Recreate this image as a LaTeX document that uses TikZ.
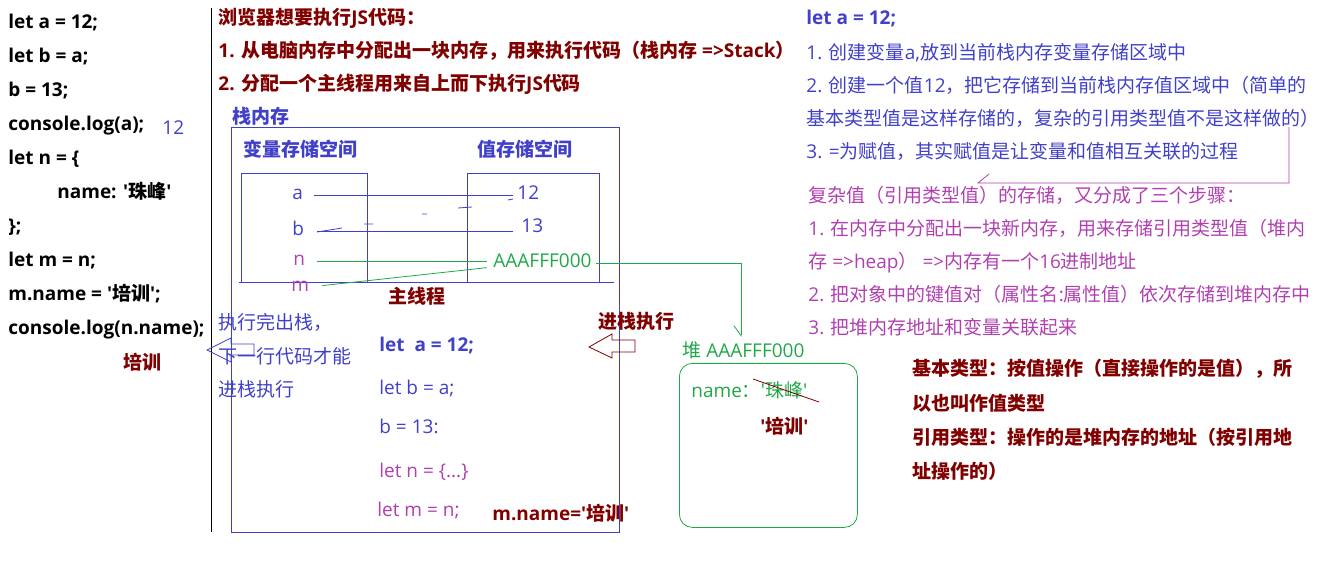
\documentclass[tikz,border=0pt]{standalone}
\usepackage{fontspec}
\setmainfont{Open Sans}
\newfontfamily\cjkfam{Noto Sans CJK SC}
\usetikzlibrary{arrows.meta}

\definecolor{jsred}{RGB}{128,0,0}
\definecolor{jsblue}{RGB}{64,64,200}
\definecolor{jspurple}{RGB}{176,64,176}
\definecolor{jsgreen}{RGB}{32,168,72}

\newcommand{\fsz}{\fontsize{19}{23}\selectfont}
\newcommand{\sqt}{\textquotesingle}

% Chinese glyphs from Noto Sans CJK, the rest from Open Sans
\XeTeXinterchartokenstate=1
\newcount\cjkcnt
\newcommand{\cjkrange}[2]{%
  \cjkcnt=#1
  \loop\ifnum\cjkcnt<#2
    \XeTeXcharclass\cjkcnt=1
    \advance\cjkcnt by 1
  \repeat}
\cjkrange{"3000}{"3040}
\cjkrange{"4E00}{"A000}
\cjkrange{"FF01}{"FF5F}
\XeTeXinterchartoks 0 1 = {\cjkfam}
\XeTeXinterchartoks 4095 1 = {\cjkfam}
\XeTeXinterchartoks 1 0 = {\rmfamily}
\XeTeXinterchartoks 1 4095 = {\rmfamily}

\begin{document}
\begin{tikzpicture}
    [
        x=1pt, y=-1pt, line width=0.8pt,
        txt/.style={anchor=base west, inner sep=0pt, font=\fsz},
        code/.style={txt, font=\fsz\bfseries},
        lbl/.style={txt, text height=10pt, text depth=0pt},
        next/.style={at={(#1.base west)}, yshift=-34pt},
        nextline/.style={at={(#1.base west)}, yshift=-33pt},
        frame/.style={draw=jsblue, inner sep=0pt, anchor=north west}
    ]
    \tikzstyle{link} = [draw=jsblue]
    \tikzstyle{glink} = [draw=jsgreen]

    \useasboundingbox (0,0) rectangle (1326,577);

    % source code
    \node[code] (js1) at (8,29) {let a = 12;};
    \node[code, next=js1] (js2) {let b = a;};
    \node[code, next=js2] (js3) {b = 13;};
    \node[code, next=js3] (js4) {console.log(a);};
    \node[code, next=js4] (js5) {let n = \{};
    \node[code, next=js5, xshift=49pt] (js6) {name: \sqt{}珠峰\sqt};
    \node[code, next=js6, xshift=-49pt] (js7) {\};};
    \node[code, next=js7] (js8) {let m = n;};
    \node[code, next=js8] (js9) {m.name = \sqt{}培训\sqt;};
    \node[code, next=js9] (js10) {console.log(n.name);};
    \node[txt, text=jsblue] (out12) at (162,135) {12};
    \node[code, text=jsred] (outname) at (123,370) {培训};

    \draw (211,8) -- (211,532);

    \node[code, text=jsred] (head1) at (218,25) {浏览器想要执行JS代码：};
    \node[code, text=jsred, nextline=head1] (head2) {1. 从电脑内存中分配出一块内存，用来执行代码（栈内存 =>Stack）};
    \node[code, text=jsred, nextline=head2] (head3) {2. 分配一个主线程用来自上而下执行JS代码};

    % stack
    \node[code, text=jsblue] (stacklbl) at (232,124) {栈内存};
    \node[frame, minimum width=388pt, minimum height=405pt] (stack) at (231,127) {};
    \node[code, text=jsblue] (varlbl) at (243,157) {变量存储空间};
    \node[code, text=jsblue] (vallbl) at (477,157) {值存储空间};
    \node[frame, minimum width=126pt, minimum height=109pt] (varbox) at (241,173) {};
    \node[frame, minimum width=132pt, minimum height=109pt] (valbox) at (467,173) {};
    \draw[link] (239,282) -- (614,282);

    \node[lbl, text=jsblue] (va) at (292,200) {a};
    \node[lbl, text=jsblue] (vb) at (292,236) {b};
    \node[lbl, text=jspurple] (vn) at (293,266) {n};
    \node[lbl, text=jspurple] (vm) at (291,292) {m};
    \node[lbl, text=jsblue] (v12) at (517,200) {12};
    \node[lbl, text=jsblue] (v13) at (521,233) {13};
    \node[lbl, text=jsgreen] (addr) at (493,268) {AAAFFF000};

    \draw[link, shorten <=11pt, shorten >=4pt] (va.east) -- (va.east -| v12.west);
    \draw[link, shorten <=13pt, shorten >=8pt] (vb.east) -- (vb.east -| v13.west);
    \draw[glink, shorten <=12pt, shorten >=6pt] (vn.east) -- (vn.east -| addr.west);
    \draw[glink, shorten <=13pt, shorten >=6pt] (vm.east) -- ([yshift=-4pt]addr.west);
    \draw[link] (317,232) -- (342,228) (364,224) -- (373,224) (422,214) -- (427,214)
        (458,208) -- (472,207) (508,200) -- (513,199);

    \node[code, text=jsred] (mainlbl) at (388,304) {主线程};

    \node[txt, text=jsblue] (pop1) at (218,330) {执行完出栈，};
    \node[txt, text=jsblue, nextline=pop1] (pop2) {下一行代码才能};
    \node[txt, text=jsblue, nextline=pop2] (pop3) {进栈执行};
    \draw[jsblue] (207,350) -- (231,338) -- (231,344) -- (254,344) -- (254,355)
        -- (231,355) -- (231,362) -- cycle;

    \node[code, text=jsred] (pushlbl) at (598,329) {进栈执行};
    \draw[jsred] (589,347) -- (612,334) -- (612,340) -- (635,340) -- (635,352)
        -- (612,352) -- (612,358) -- cycle;

    \node[code, text=jsblue] (run1) at (379,352) {let~~a = 12;};
    \node[txt, text=jsblue] (run2) at (379,395) {let b = a;};
    \node[txt, text=jsblue] (run3) at (379,433) {b = 13:};
    \node[txt, text=jspurple] (run4) at (379,477) {let n = \{...\}};
    \node[txt, text=jspurple] (run5) at (377,516) {let m = n;};
    \node[code, text=jsred] (run6) at (492,520) {m.name=\sqt{}培训\sqt};

    % heap
    \coordinate (hin) at (741,337);
    \draw[glink, shorten <=4pt, -{Straight Barb[harpoon, swap, length=10pt, width=14pt]}] (addr.east) -| (hin);
    \node[txt, text=jsgreen] (heaplbl) at (682,358) {堆 AAAFFF000};
    \node[frame, draw=jsgreen, rounded corners=13pt, minimum width=178pt, minimum height=164pt] (heap) at (679,363) {};
    \node[txt, text=jsgreen] (prop) at (691,398) {name：\sqt{}珠峰\sqt};
    \draw[jsred] (753,379) -- (819,402);
    \node[code, text=jsred] (newval) at (760,433) {\sqt{}培训\sqt};

    % notes
    \node[code, text=jsblue] (step0) at (806,25) {let a = 12;};
    \node[txt, text=jsblue] (step1) at (806,60) {1. 创建变量a,放到当前栈内存变量存储区域中};
    \node[txt, text=jsblue, nextline=step1] (step2) {2. 创建一个值12，把它存储到当前栈内存值区域中（简单的};
    \node[txt, text=jsblue, nextline=step2] (step3) {基本类型值是这样存储的，复杂的引用类型值不是这样做的）};
    \node[txt, text=jsblue, nextline=step3] (step4) {3. =为赋值，其实赋值是让变量和值相互关联的过程};

    \node[txt, text=jspurple] (ref0) at (808,203) {复杂值（引用类型值）的存储，又分成了三个步骤：};
    \node[txt, text=jspurple, nextline=ref0] (ref1) {1. 在内存中分配出一块新内存，用来存储引用类型值（堆内};
    \node[txt, text=jspurple, nextline=ref1] (ref2) {存 =>heap） =>内存有一个16进制地址};
    \node[txt, text=jspurple, nextline=ref2] (ref3) {2. 把对象中的键值对（属性名:属性值）依次存储到堆内存中};
    \node[txt, text=jspurple, nextline=ref3] (ref4) {3. 把堆内存地址和变量关联起来};
    \draw[jspurple] (989,174) -- (978,183) -- (1289,183) -- (1289,127);

    \node[code, text=jsred] (kind1) at (912,376) {基本类型：按值操作（直接操作的是值），所};
    \node[code, text=jsred, next=kind1] (kind2) {以也叫作值类型};
    \node[code, text=jsred, next=kind2] (kind3) {引用类型：操作的是堆内存的地址（按引用地};
    \node[code, text=jsred, next=kind3] (kind4) {址操作的）};

\end{tikzpicture}
\end{document}
